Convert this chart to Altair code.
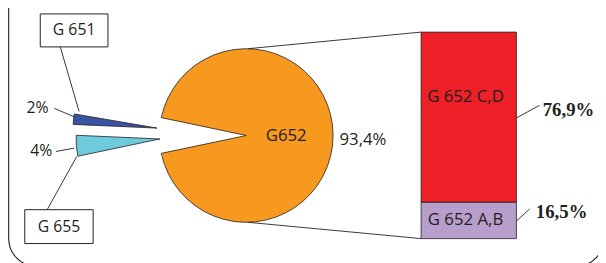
import math
import altair as alt
import pandas as pd

# ---------------- data ----------------
pie_names = ["G652", "G655", "G651"]
pie_values = [93.4, 4.0, 2.0]
pie_pct_labels = ["93,4%", "4%", "2%"]
pie_box_labels = ["G652", "G 655", "G 651"]

bar_names = ["G 652 A,B", "G 652 C,D"]
bar_values = [16.5, 76.9]
bar_pct_labels = ["16,5%", "76,9%"]

# ---------------- styles / layout ----------------
W, H = 598, 255
INK = "#231F20"
SANS = "Open Sans"
SERIF = "Liberation Serif"
pie_colors = {"G652": "#F7981F", "G655": "#6DCBDB", "G651": "#3953A4"}
bar_colors = ["#B89ECB", "#ED2027"]

PIE_CX, PIE_CY, PIE_R = 241.5, 127.5, 88
# exploded centres of the two small slices
slice_centre = {"G652": (PIE_CX, PIE_CY), "G655": (154, 131), "G651": (151, 120)}
slice_radius = {"G652": PIE_R, "G655": 85, "G651": 85}

BAR_X0, BAR_X1, BAR_TOP, BAR_BOT = 418.7, 515.3, 22.7, 232

# ---------------- tables ----------------
pie_df = pd.DataFrame({"name": pie_names, "value": pie_values,
                       "pct": pie_pct_labels, "label": pie_box_labels})
pie_df["t1"] = pie_df["value"].cumsum()
pie_df["t0"] = pie_df["t1"] - pie_df["value"]

# big slice centred on the right-hand side
theta0 = math.radians(90 - pie_values[0] * 1.8) + 2 * math.pi
theta_scale = alt.Scale(domain=[0, 100], range=[theta0, theta0 + 2 * math.pi])

bar_df = pd.DataFrame({"name": bar_names, "value": bar_values, "pct": bar_pct_labels})
bar_df["y1"] = bar_df["value"].cumsum()
bar_df["y0"] = bar_df["y1"] - bar_df["value"]
bar_total = float(sum(bar_values))
y_scale = alt.Scale(domain=[0, bar_total], range=[BAR_BOT, BAR_TOP])

one = pd.DataFrame({"k": [0]})


def rule(x1, y1, x2, y2, width=0.9):
    return alt.Chart(one).mark_rule(stroke=INK, strokeWidth=width).encode(
        x=alt.value(x1), y=alt.value(y1), x2=alt.value(x2), y2=alt.value(y2))


def text_from(df_name, field, name, x, y, size=16, font=SANS, weight="normal", align="center"):
    src = pie_df if df_name == "pie" else bar_df
    return alt.Chart(src).transform_filter(alt.datum.name == name).mark_text(
        font=font, fontSize=size, fontWeight=weight, color=INK, align=align, baseline="middle"
    ).encode(text=alt.Text(f"{field}:N"), x=alt.value(x), y=alt.value(y))


def box(x0, y0, x1, y1):
    return alt.Chart(one).mark_rect(fill="white", stroke=INK, strokeWidth=1).encode(
        x=alt.value(x0), y=alt.value(y0), x2=alt.value(x1), y2=alt.value(y1))


layers = []

# outer rounded frame
layers.append(alt.Chart(one).mark_rect(fill="transparent", stroke=INK, strokeWidth=1.1,
                                       cornerRadius=28).encode(
    x=alt.value(0.7), y=alt.value(-60), x2=alt.value(604), y2=alt.value(260)))

# connector lines pie -> bar
layers.append(rule(PIE_CX + 2, PIE_CY - PIE_R, BAR_X0, BAR_TOP))
layers.append(rule(PIE_CX + 2, PIE_CY + PIE_R, BAR_X0, BAR_BOT))

# pie slices
for n in pie_names:
    cx, cy = slice_centre[n]
    layers.append(
        alt.Chart(pie_df).transform_filter(alt.datum.name == n).mark_arc(
            fill=pie_colors[n], stroke=INK, strokeWidth=0.8, radius=slice_radius[n]
        ).encode(
            theta=alt.Theta("t0:Q", scale=theta_scale),
            theta2="t1:Q",
            x=alt.value(cx), y=alt.value(cy),
        )
    )

# bar of G652 split
layers.append(
    alt.Chart(bar_df).mark_rect(stroke=INK, strokeWidth=0.8).encode(
        x=alt.value(BAR_X0), x2=alt.value(BAR_X1),
        y=alt.Y("y0:Q", scale=y_scale, axis=None), y2="y1:Q",
        color=alt.Color("name:N", scale=alt.Scale(domain=bar_names, range=bar_colors), legend=None),
    )
)

# leader lines
layers += [
    rule(53, 37.7, 72, 103),        # G 651 box -> slice
    rule(39.7, 202.7, 69.7, 148.7),  # G 655 box -> slice
    rule(47, 100, 67, 108.5),       # 2%
    rule(48.7, 143.7, 67, 140.3),   # 4%
    rule(515.3, 109.7, 538.7, 97),  # 76,9%
    rule(515.3, 214.3, 528.7, 202), # 16,5%
]

# label boxes
layers.append(box(32.7, 4.3, 101.3, 37.7))
layers.append(box(17, 202.7, 86.3, 237))

# texts
layers += [
    text_from("pie", "label", "G651", 67, 21),
    text_from("pie", "label", "G655", 51.7, 220),
    text_from("pie", "pct", "G651", 41, 100, align="right"),
    text_from("pie", "pct", "G655", 45, 143.7, align="right"),
    text_from("pie", "name", "G652", 282, 128, size=17),
    text_from("pie", "pct", "G652", 336, 132, size=17, align="left"),
    text_from("bar", "name", "G 652 C,D", 463.7, 88.7, size=17),
    text_from("bar", "name", "G 652 A,B", 463.7, 213.7, size=17),
    text_from("bar", "pct", "G 652 C,D", 542, 102, size=19, font=SERIF, weight="bold", align="left"),
    text_from("bar", "pct", "G 652 A,B", 535, 205, size=19, font=SERIF, weight="bold", align="left"),
]

chart = alt.layer(*layers).properties(
    width=W, height=H, autosize=alt.AutoSizeParams(type="none"), padding=0, background="white"
).configure_view(stroke=None)

chart.save("out.html", embed_options={"renderer": "svg", "actions": False})
